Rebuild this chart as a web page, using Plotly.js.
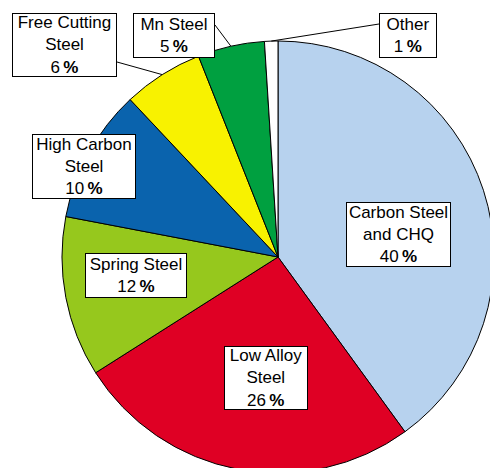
<!DOCTYPE html>
<html>
<head>
<meta charset="utf-8">
<script src="https://cdn.plot.ly/plotly-3.0.1.min.js"></script>
<style>
  html, body { margin: 0; padding: 0; overflow: hidden; background: #fff; }
  #chart { width: 500px; height: 480px; }
</style>
</head>
<body>
<div id="chart"></div>
<script>
// Steel grade share (%), listed clockwise from 12 o'clock
const grades = ['Carbon Steel<br>and CHQ', 'Low Alloy<br>Steel', 'Spring Steel',
                'High Carbon<br>Steel', 'Free Cutting<br>Steel', 'Mn Steel', 'Other'];
const shares = [40, 26, 12, 10, 6, 5, 1];
const sliceColors = ['#B7D2EE', '#DF0024', '#96C81D', '#0A63AD', '#F8F200', '#00A040', '#FFFFFF'];

// Figure geometry (pixels)
const W = 500, H = 480;
const M = { l: 62, t: 41, r: 6, b: 7 };
const PW = W - M.l - M.r, PH = H - M.t - M.b;
const fx = px => (px - M.l) / PW;
const fy = py => 1 - (py - M.t) / PH;

// Label boxes: centre (px), text-area size, and optional leader-line start
const boxes = [
  { cx: 398.5, cy: 234.5, w: 103, h: 63 },
  { cx: 266,   cy: 378,   w: 82,  h: 62 },
  { cx: 136,   cy: 275.5, w: 100, h: 43 },
  { cx: 84,    cy: 166.5, w: 102, h: 63 },
  { cx: 64.5,  cy: 45,    w: 103, h: 62, lead: [117, 62] },
  { cx: 174,   cy: 35.5,  w: 80,  h: 43, lead: [215, 25] },
  { cx: 408,   cy: 35.5,  w: 56,  h: 43, lead: [379, 24] }
];

const total = shares.reduce((a, b) => a + b, 0);
// Pie centre and radius in paper units (domain is the full plot area)
const pcx = 0.5, pcy = 0.5, pr = 0.5;

const annotations = [];
const shapes = [];
let cum = 0;
shares.forEach((v, i) => {
  const mid = (cum + v / 2) / total * 2 * Math.PI;
  cum += v;
  const b = boxes[i];
  annotations.push({
    xref: 'paper', yref: 'paper',
    x: fx(b.cx), y: fy(b.cy),
    xanchor: 'center', yanchor: 'middle',
    text: grades[i] + '<br>' + v + '\u2009<b>%</b>',
    showarrow: false,
    width: b.w, height: b.h,
    align: 'center', valign: 'middle',
    bgcolor: '#FFFFFF', bordercolor: '#000000', borderwidth: 1, borderpad: 0,
    font: { family: 'Liberation Sans, Arial, sans-serif', size: 17, color: '#000' }
  });
  if (b.lead) {
    shapes.push({
      type: 'line', xref: 'paper', yref: 'paper', layer: 'above',
      x0: fx(b.lead[0]), y0: fy(b.lead[1]),
      x1: pcx + pr * Math.sin(mid), y1: pcy + pr * Math.cos(mid),
      line: { color: '#000', width: 1 }
    });
  }
});

const data = [{
  type: 'pie',
  labels: grades,
  values: shares,
  sort: false,
  direction: 'clockwise',
  rotation: 0,
  textinfo: 'none',
  hoverinfo: 'skip',
  showlegend: false,
  domain: { x: [0, 1], y: [0, 1] },
  marker: { colors: sliceColors, line: { color: '#000', width: 1 } }
}];

const layout = {
  width: W, height: H,
  margin: M,
  paper_bgcolor: '#FFFFFF',
  plot_bgcolor: '#FFFFFF',
  showlegend: false,
  annotations: annotations,
  shapes: shapes
};

Plotly.newPlot('chart', data, layout, { staticPlot: true, displayModeBar: false });
</script>
</body>
</html>
